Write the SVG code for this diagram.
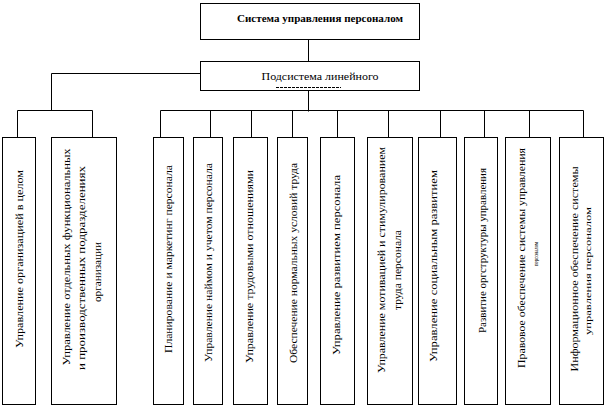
<svg xmlns="http://www.w3.org/2000/svg" width="606" height="408" viewBox="0 0 606 408">
<style>
.box{fill:#fff;stroke:#000;stroke-width:1}
.ln{fill:none;stroke:#000;stroke-width:1}
.t{font-family:"Liberation Serif","Times New Roman",serif;font-size:11px;fill:#000}
.v{text-anchor:middle}
.s{font-size:7px}
.m{font-size:9px}
</style>
<rect width="606" height="408" fill="#fff"/>
<g id="connectors">
<path class="ln" d="M308.5 39.5V61.5"/>
<path class="ln" d="M200.5 73.5H51.5V110.5"/>
<path class="ln" d="M17.5 137.5V110.5H92.5V137.5"/>
<path class="ln" d="M308.5 90.5V111.5"/>
<path class="ln" d="M160.5 137.5V110.5H583.5V137.5"/>
<path class="ln" d="M210.5 110.5V137.5M251.5 110.5V137.5M292.5 110.5V137.5M337.5 110.5V137.5M388.5 110.5V137.5M440.5 110.5V137.5M484.5 110.5V137.5M529.5 110.5V137.5"/>
</g>
<g id="n-root">
<rect class="box" x="200.5" y="3.5" width="219" height="36"/>
<text class="t" x="320" y="22" text-anchor="middle" font-weight="bold" textLength="166" lengthAdjust="spacingAndGlyphs">Система управления персоналом</text>
</g>
<g id="n-sub">
<rect class="box" x="200.5" y="61.5" width="219" height="29"/>
<text class="t" x="320" y="80" text-anchor="middle" font-size="12" textLength="117" lengthAdjust="spacingAndGlyphs">Подсистема линейного</text>
<path d="M276 87.5H341" stroke="#000" stroke-width="1" stroke-dasharray="3 1"/>
</g>
<g id="n1">
<rect class="box" x="2.5" y="137.5" width="33" height="267"/>
<text class="t v" transform="translate(19 259) rotate(-90)" dy="0.35em" textLength="178" lengthAdjust="spacingAndGlyphs">Управление организацией в целом</text>
</g>
<g id="n2">
<rect class="box" x="51.5" y="137.5" width="65" height="267"/>
<text class="t v" transform="translate(66 257) rotate(-90)" dy="0.35em" textLength="217" lengthAdjust="spacingAndGlyphs">Управление отдельных функциональных</text>
<text class="t v" transform="translate(81.5 268) rotate(-90)" dy="0.35em" textLength="204" lengthAdjust="spacingAndGlyphs">и производственных подразделениях</text>
<text class="t v" transform="translate(97.5 272) rotate(-90)" dy="0.35em" textLength="60" lengthAdjust="spacingAndGlyphs">организации</text>
</g>
<g id="n3">
<rect class="box" x="153.5" y="137.5" width="30" height="267"/>
<text class="t v" transform="translate(168 259) rotate(-90)" dy="0.35em" textLength="188" lengthAdjust="spacingAndGlyphs">Планирование и маркетинг персонала</text>
</g>
<g id="n4">
<rect class="box" x="193.5" y="137.5" width="29" height="267"/>
<text class="t v" transform="translate(208 262.5) rotate(-90)" dy="0.35em" textLength="199" lengthAdjust="spacingAndGlyphs">Управление наймом и учетом персонала</text>
</g>
<g id="n5">
<rect class="box" x="233.5" y="137.5" width="34" height="267"/>
<text class="t v" transform="translate(249 266.5) rotate(-90)" dy="0.35em" textLength="193" lengthAdjust="spacingAndGlyphs">Управление трудовыми отношениями</text>
</g>
<g id="n6">
<rect class="box" x="277.5" y="137.5" width="30" height="267"/>
<text class="t v" transform="translate(293.5 263) rotate(-90)" dy="0.35em" textLength="200" lengthAdjust="spacingAndGlyphs">Обеспечение нормальных условий труда</text>
</g>
<g id="n7">
<rect class="box" x="320.5" y="137.5" width="34" height="267"/>
<text class="t v" transform="translate(336.5 265) rotate(-90)" dy="0.35em" textLength="180" lengthAdjust="spacingAndGlyphs">Управление развитием персонала</text>
</g>
<g id="n8">
<rect class="box" x="367.5" y="137.5" width="45" height="267"/>
<text class="t v" transform="translate(381.5 260) rotate(-90)" dy="0.35em" textLength="226" lengthAdjust="spacingAndGlyphs">Управление мотивацией и стимулированием</text>
<text class="t v" transform="translate(397.5 270) rotate(-90)" dy="0.35em" textLength="80" lengthAdjust="spacingAndGlyphs">труда персонала</text>
</g>
<g id="n9">
<rect class="box" x="418.5" y="137.5" width="38" height="267"/>
<text class="t v" transform="translate(433 266) rotate(-90)" dy="0.35em" textLength="192" lengthAdjust="spacingAndGlyphs">Управление социальным развитием</text>
</g>
<g id="n10">
<rect class="box" x="464.5" y="137.5" width="33" height="267"/>
<text class="t v" transform="translate(482.5 250.5) rotate(-90)" dy="0.35em" textLength="165" lengthAdjust="spacingAndGlyphs">Развитие оргструктуры управления</text>
</g>
<g id="n11">
<rect class="box" x="505.5" y="137.5" width="45" height="267"/>
<text class="t v" transform="translate(521 258) rotate(-90)" dy="0.35em" textLength="220" lengthAdjust="spacingAndGlyphs">Правовое обеспечение системы управления</text>
<text class="t v s" transform="translate(535.5 254) rotate(-90)" dy="0.35em" textLength="24" lengthAdjust="spacingAndGlyphs">персоналом</text>
</g>
<g id="n12">
<rect class="box" x="559.5" y="137.5" width="44" height="267"/>
<text class="t v" transform="translate(574 269) rotate(-90)" dy="0.35em" textLength="205" lengthAdjust="spacingAndGlyphs">Информационное обеспечение системы</text>
<text class="t v m" transform="translate(588 271) rotate(-90)" dy="0.35em" textLength="128" lengthAdjust="spacingAndGlyphs">управления персоналом</text>
</g>
</svg>
